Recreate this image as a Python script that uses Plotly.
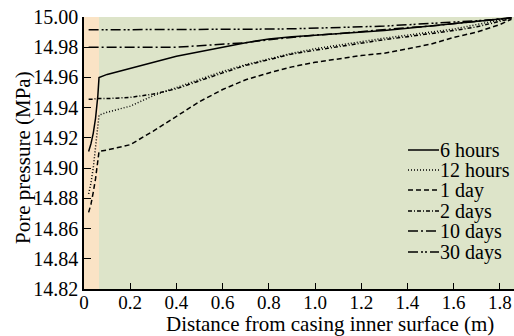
import plotly.graph_objects as go

# ---- data ----
x_pts = [0.02, 0.03, 0.04, 0.05, 0.06, 0.065, 0.1, 0.2, 0.3, 0.4, 0.5, 0.6, 0.7,
         0.8, 0.9, 1.0, 1.1, 1.2, 1.3, 1.4, 1.5, 1.6, 1.7, 1.8, 1.85]

p_6h = [14.911, 14.916, 14.923, 14.933, 14.948, 14.960, 14.962, 14.966, 14.970, 14.974,
        14.977, 14.980, 14.983, 14.9855, 14.987, 14.988, 14.989, 14.9905, 14.991, 14.9925,
        14.994, 14.9955, 14.997, 14.9985, 14.9995]
p_12h = [14.883, 14.890, 14.900, 14.913, 14.926, 14.935, 14.937, 14.941, 14.948, 14.9535,
         14.959, 14.964, 14.9685, 14.9725, 14.976, 14.979, 14.9815, 14.984, 14.986, 14.988,
         14.990, 14.992, 14.995, 14.998, 14.9995]
p_1d = [14.8707, 14.876, 14.884, 14.893, 14.905, 14.911, 14.912, 14.9155, 14.9245, 14.9345,
        14.944, 14.952, 14.9585, 14.963, 14.967, 14.970, 14.9725, 14.9745, 14.976, 14.979,
        14.982, 14.9865, 14.990, 14.995, 14.9985]
p_2d = [14.9455, 14.9455, 14.9455, 14.946, 14.946, 14.946, 14.946, 14.9468, 14.949, 14.9525,
        14.958, 14.963, 14.968, 14.972, 14.9755, 14.978, 14.9805, 14.983, 14.985, 14.987,
        14.989, 14.991, 14.9935, 14.997, 14.999]
p_10d = [14.980, 14.980, 14.980, 14.980, 14.980, 14.980, 14.980, 14.980, 14.980, 14.980,
         14.981, 14.982, 14.983, 14.985, 14.9865, 14.988, 14.989, 14.9905, 14.9915, 14.993,
         14.994, 14.9955, 14.997, 14.9985, 14.9995]
p_30d = [14.9915, 14.9915, 14.9915, 14.9915, 14.9915, 14.9915, 14.9915, 14.9915, 14.9915, 14.9915,
         14.9915, 14.9915, 14.992, 14.992, 14.9922, 14.9925, 14.993, 14.9935, 14.994, 14.995,
         14.9958, 14.9965, 14.9975, 14.9985, 14.9995]

series_names = ["6 hours", "12 hours", "1 day", "2 days", "10 days", "30 days"]
series_vals = [p_6h, p_12h, p_1d, p_2d, p_10d, p_30d]
series_dash = ["solid", "1px,2px", "5px,3px", "4px,2px,1px,2px",
               "10px,3px,2px,3px", "10px,3px,2px,2px,2px,3px"]

x_ticks = [0, 0.2, 0.4, 0.6, 0.8, 1.0, 1.2, 1.4, 1.6, 1.8]
x_ticklabels = ["0", "0.2", "0.4", "0.6", "0.8", "1.0", "1.2", "1.4", "1.6", "1.8"]
casing_zone = [0, 0.065]

FONT = "Liberation Serif, Times New Roman, serif"

# layout geometry (pixels)
W, H = 514, 336
ML, MR, MT, MB = 84, 0, 17, 47
PW, PH = W - ML - MR, H - MT - MB


def px_x(px):
    return (px - ML) / PW


def px_y(py):
    return (H - MB - py) / PH


fig = go.Figure()
for name, vals, dash in zip(series_names, series_vals, series_dash):
    fig.add_trace(go.Scatter(x=x_pts, y=vals, mode="lines", name=name, showlegend=False,
                             hoverinfo="skip",
                             line=dict(color="black", width=1.5, dash=dash)))

fig.add_shape(type="rect", xref="x", yref="y domain", x0=casing_zone[0], x1=casing_zone[1],
              y0=0, y1=1, fillcolor="#FAE3C5", line_width=0, layer="below")

# custom legend (line samples + labels)
legend_y = [150, 170, 190, 211, 231, 252]
for name, dash, ly in zip(series_names, series_dash, legend_y):
    fig.add_shape(type="line", xref="paper", yref="paper",
                  x0=px_x(408), x1=px_x(439), y0=px_y(ly), y1=px_y(ly),
                  line=dict(color="black", width=1.5, dash=dash))
    fig.add_annotation(xref="paper", yref="paper", x=px_x(438), y=px_y(ly),
                       text=name, showarrow=False, xanchor="left", yanchor="middle",
                       font=dict(size=20, family=FONT, color="black"))

# axis titles
fig.add_annotation(xref="paper", yref="paper", x=px_x(330), y=px_y(324),
                   text="Distance from casing inner surface (m)", showarrow=False,
                   xanchor="center", yanchor="middle",
                   font=dict(size=21, family=FONT, color="black"))
fig.add_annotation(xref="paper", yref="paper", x=px_x(23), y=px_y(158),
                   text="Pore pressure (MPa)", showarrow=False, textangle=-90,
                   xanchor="center", yanchor="middle",
                   font=dict(size=21, family=FONT, color="black"))

fig.update_layout(
    width=W, height=H,
    margin=dict(l=ML, r=MR, t=MT, b=MB),
    paper_bgcolor="white", plot_bgcolor="#DDE4C9",
    font=dict(family=FONT, color="black", size=20),
    showlegend=False,
    xaxis=dict(range=[0, 1.861], tickvals=x_ticks, ticktext=x_ticklabels,
               ticks="inside", ticklen=6, tickcolor="black", showline=True,
               linecolor="black", linewidth=1.5, showgrid=False, zeroline=False,
               automargin=False, ticklabelstandoff=-5, tickfont=dict(size=19, family=FONT)),
    yaxis=dict(range=[14.82, 15.0], dtick=0.02, tickformat=".2f",
               ticks="inside", ticklen=7, tickcolor="black", showline=True,
               linecolor="black", linewidth=1.5, showgrid=False, zeroline=False,
               automargin=False, tickfont=dict(size=20, family=FONT)),
)

fig.write_html("out.html", config={"displayModeBar": False},
               post_script="document.body.style.margin='0';document.body.style.overflow='hidden';")
